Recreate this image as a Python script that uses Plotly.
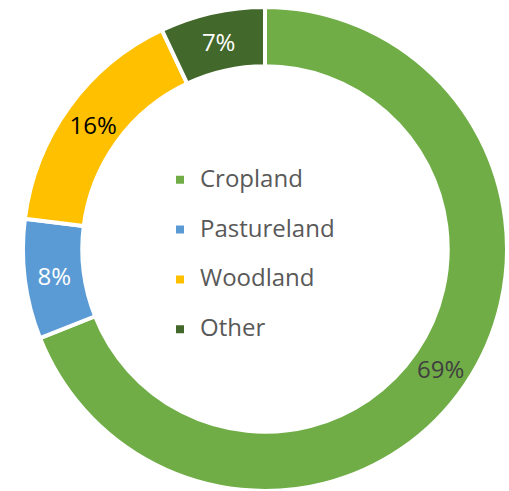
import plotly.graph_objects as go

# Land use shares (percent), clockwise from 12 o'clock
categories = ["Cropland", "Pastureland", "Woodland", "Other"]
shares = [69, 8, 16, 7]
slice_colors = ["#70AD47", "#5B9BD5", "#FFC000", "#43682B"]
label_colors = ["#404040", "#FFFFFF", "#000000", "#FFFFFF"]

FONT = "Open Sans"

# Legend entries: text at 24px on a smaller base font, with a blank second
# line so that entries sit further apart.
legend_labels = [f'<span style="font-size:24px">{c}</span><br> ' for c in categories]

fig = go.Figure(
    go.Pie(
        labels=legend_labels,
        values=shares,
        sort=False,
        direction="clockwise",
        rotation=0,
        hole=0.755,
        marker=dict(colors=slice_colors, line=dict(color="#FFFFFF", width=4)),
        texttemplate="%{value}%",
        textposition="inside",
        insidetextorientation="horizontal",
        textfont=dict(family=FONT, size=24, color=label_colors),
        domain=dict(x=[23 / 509, 507 / 509], y=[0, 484 / 491]),
        hoverinfo="skip",
    )
)

fig.update_layout(
    width=509,
    height=491,
    margin=dict(l=0, r=0, t=0, b=0),
    paper_bgcolor="#FFFFFF",
    plot_bgcolor="#FFFFFF",
    showlegend=True,
    legend=dict(
        x=160 / 509,
        xanchor="left",
        y=0.457,
        yanchor="middle",
        valign="top",
        bgcolor="rgba(0,0,0,0)",
        font=dict(family=FONT, size=18, color="#595959"),
    ),
)

fig.write_html("out.html")
